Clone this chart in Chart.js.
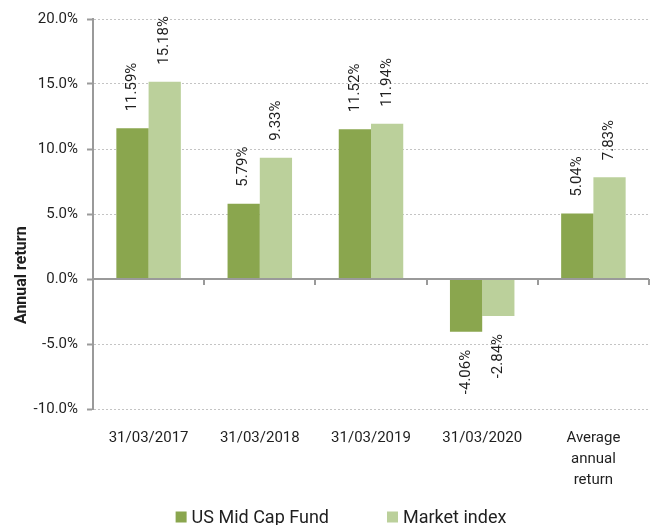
<!DOCTYPE html>
<html>
<head>
<meta charset="utf-8">
<script src="https://cdn.jsdelivr.net/npm/chart.js@4.4.1/dist/chart.umd.min.js"></script>
<style>
  html, body { margin: 0; padding: 0; background: #fff; overflow: hidden; }
  #wrap { position: relative; width: 652px; height: 525px; }
</style>
</head>
<body>
<div id="wrap"><canvas id="chart"></canvas></div>
<script>
// values
const categories = ['31/03/2017', '31/03/2018', '31/03/2019', '31/03/2020', ['Average', 'annual', 'return']];
const fundReturns = [11.59, 5.79, 11.52, -4.06, 5.04];
const indexReturns = [15.18, 9.33, 11.94, -2.84, 7.83];
const seriesNames = ['US Mid Cap Fund', 'Market index'];
const yTicks = { min: -10, max: 20, step: 5 };

const FONT = 'Roboto, "Liberation Sans", Arial, sans-serif';
const TEXT = '#1f1f1f';
const AXIS = '#9a9a9a';

// rotated value labels above / below every bar
const barLabels = {
  id: 'barLabels',
  afterDatasetsDraw(chart) {
    const { ctx } = chart;
    ctx.save();
    ctx.font = '15px ' + FONT;
    ctx.fillStyle = TEXT;
    ctx.textBaseline = 'middle';
    chart.data.datasets.forEach((ds, i) => {
      chart.getDatasetMeta(i).data.forEach((bar, j) => {
        const v = ds.data[j];
        ctx.save();
        if (v >= 0) {
          ctx.translate(bar.x, bar.y - 17);
          ctx.rotate(-Math.PI / 2);
          ctx.textAlign = 'left';
        } else {
          ctx.translate(bar.x, bar.y + 18);
          ctx.rotate(-Math.PI / 2);
          ctx.textAlign = 'right';
        }
        ctx.fillText(v.toFixed(2) + '%', 0, 0);
        ctx.restore();
      });
    });
    ctx.restore();
  }
};

// category axis drawn on the zero line, y axis title and the legend
const zeroAxis = {
  id: 'zeroAxis',
  afterDatasetsDraw(chart) {
    const { ctx, chartArea } = chart;
    const x = chart.scales.x;
    const y0 = chart.scales.y.getPixelForValue(0);
    ctx.save();
    ctx.strokeStyle = AXIS;
    ctx.lineWidth = 2;
    ctx.beginPath();
    ctx.moveTo(chartArea.left, y0);
    ctx.lineTo(chartArea.right, y0);
    for (let i = 1; i <= categories.length; i++) {
      const bx = Math.round(x.getPixelForValue(i - 0.5));
      ctx.moveTo(bx, y0);
      ctx.lineTo(bx, y0 + 6);
    }
    ctx.stroke();

    ctx.fillStyle = TEXT;
    ctx.font = 'bold 16px ' + FONT;
    ctx.textAlign = 'center';
    ctx.textBaseline = 'middle';
    ctx.translate(22, chartArea.top + (chartArea.bottom - chartArea.top) * 0.657);
    ctx.rotate(-Math.PI / 2);
    ctx.fillText('Annual return', 0, 0);
    ctx.restore();
  },
  afterDraw(chart) {
    const { ctx } = chart;
    const box = 11, gap = 5, itemGap = 58, cy = 518;
    ctx.save();
    ctx.font = '18px ' + FONT;
    ctx.textBaseline = 'middle';
    ctx.textAlign = 'left';
    const items = chart.data.datasets.map(ds => ({
      text: ds.label, color: ds.backgroundColor, w: box + gap + ctx.measureText(ds.label).width
    }));
    const total = items.reduce((s, it) => s + it.w, 0) + itemGap * (items.length - 1);
    let lx = 341 - total / 2;
    items.forEach(it => {
      ctx.fillStyle = it.color;
      ctx.fillRect(lx, cy - box / 2 - 1, box, box);
      ctx.fillStyle = TEXT;
      ctx.fillText(it.text, lx + box + gap, cy);
      lx += it.w + itemGap;
    });
    ctx.restore();
  }
};

new Chart(document.getElementById('chart'), {
  type: 'bar',
  data: {
    labels: categories,
    datasets: [
      {
        label: seriesNames[0],
        data: fundReturns,
        backgroundColor: '#8aa64e'
      },
      {
        label: seriesNames[1],
        data: indexReturns,
        backgroundColor: '#bbd09b'
      }
    ]
  },
  options: {
    responsive: true,
    maintainAspectRatio: false,
    animation: false,
    layout: { padding: { top: 19, right: 3, bottom: 0, left: 0 } },
    datasets: {
      bar: { categoryPercentage: 0.58, barPercentage: 1.0 }
    },
    plugins: {
      tooltip: { enabled: false },
      legend: { display: false }
    },
    scales: {
      x: {
        grid: { display: false, drawTicks: false },
        border: { display: false },
        ticks: {
          font: { family: FONT, size: 15, lineHeight: 1.4 },
          color: TEXT,
          padding: 19,
          maxRotation: 0,
          autoSkip: false
        },
        afterFit: s => { s.height = 116; }
      },
      y: {
        min: yTicks.min,
        max: yTicks.max,
        ticks: {
          stepSize: yTicks.step,
          font: { family: FONT, size: 15 },
          color: TEXT,
          padding: 9,
          callback: v => v.toFixed(1) + '%'
        },
        grid: {
          color: c => (c.tick && c.tick.value === 0 ? 'rgba(0,0,0,0)' : '#c4c4c4'),
          tickColor: AXIS,
          tickLength: 6,
          tickWidth: 2
        },
        border: { display: true, color: AXIS, width: 2, dash: [2, 2] },
        afterFit: s => { s.width = 93; }
      }
    }
  },
  plugins: [barLabels, zeroAxis]
});
</script>
</body>
</html>
